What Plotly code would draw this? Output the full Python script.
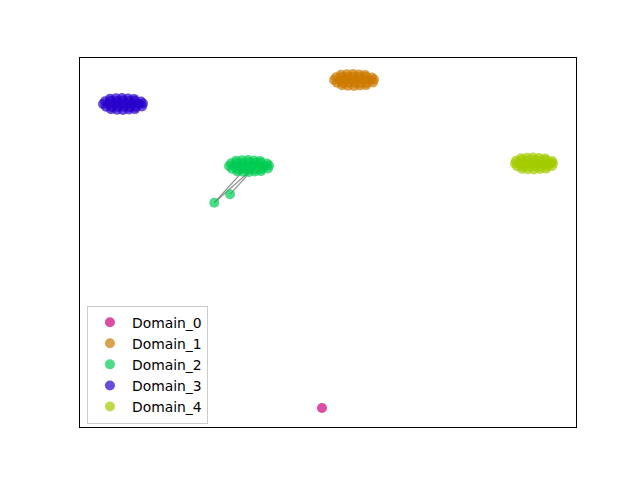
import plotly.graph_objects as go

# ---- data (embedding coordinates) ----
domains = ["Domain_0", "Domain_1", "Domain_2", "Domain_3", "Domain_4"]
colors = ["#cc007a", "#cc7a00", "#00cc52", "#2900cc", "#a3cc00"]

d0_x = [-0.6]
d0_y = [-16.55]

d1_x = [1.3, 1.9, 2.5, 3.1, 3.7,
        0.8, 1.4, 2.0, 2.6, 3.2, 3.8, 4.4,
        0.6, 1.2, 1.8, 2.4, 3.0, 3.6, 4.2, 4.6,
        0.9, 1.5, 2.1, 2.7, 3.3, 3.9, 4.5,
        1.4, 2.0, 2.6, 3.2, 3.8]
d1_y = [16.78, 16.82, 16.85, 16.80, 16.76,
        16.52, 16.58, 16.55, 16.60, 16.54, 16.57, 16.50,
        16.25, 16.23, 16.28, 16.25, 16.22, 16.27, 16.24, 16.30,
        15.97, 15.92, 15.95, 15.98, 15.93, 15.96, 16.00,
        15.72, 15.68, 15.65, 15.70, 15.74]

d2_x = [-9.2, -8.6, -8.0, -7.4, -6.8,
        -9.7, -9.1, -8.5, -7.9, -7.3, -6.7, -6.1,
        -9.9, -9.3, -8.7, -8.1, -7.5, -6.9, -6.3, -5.9,
        -9.6, -9.0, -8.4, -7.8, -7.2, -6.6, -6.0,
        -9.1, -8.5, -7.9, -7.3, -6.7,
        -11.37, -9.8]
d2_y = [8.18, 8.22, 8.25, 8.20, 8.16,
        7.92, 7.98, 7.95, 8.00, 7.94, 7.97, 7.90,
        7.65, 7.63, 7.68, 7.65, 7.62, 7.67, 7.64, 7.70,
        7.37, 7.32, 7.35, 7.38, 7.33, 7.36, 7.40,
        7.12, 7.08, 7.05, 7.10, 7.14,
        3.98, 4.82]

d3_x = [-21.8, -21.2, -20.6, -20.0, -19.4,
        -22.3, -21.7, -21.1, -20.5, -19.9, -19.3, -18.7,
        -22.5, -21.9, -21.3, -20.7, -20.1, -19.5, -18.9, -18.5,
        -22.2, -21.6, -21.0, -20.4, -19.8, -19.2, -18.6,
        -21.7, -21.1, -20.5, -19.9, -19.3]
d3_y = [14.38, 14.42, 14.45, 14.40, 14.36,
        14.12, 14.18, 14.15, 14.20, 14.14, 14.17, 14.10,
        13.85, 13.83, 13.88, 13.85, 13.82, 13.87, 13.84, 13.90,
        13.57, 13.52, 13.55, 13.58, 13.53, 13.56, 13.60,
        13.32, 13.28, 13.25, 13.30, 13.34]

d4_x = [19.3, 19.9, 20.5, 21.1, 21.7,
        18.8, 19.4, 20.0, 20.6, 21.2, 21.8, 22.4,
        18.7, 19.2, 19.8, 20.4, 21.0, 21.6, 22.2, 22.5,
        18.9, 19.5, 20.1, 20.7, 21.3, 21.9, 22.4,
        19.4, 20.0, 20.6, 21.2, 21.8]
d4_y = [8.43, 8.47, 8.50, 8.45, 8.41,
        8.17, 8.23, 8.20, 8.25, 8.19, 8.22, 8.15,
        7.90, 7.88, 7.93, 7.90, 7.87, 7.92, 7.89, 7.95,
        7.62, 7.57, 7.60, 7.63, 7.58, 7.61, 7.65,
        7.37, 7.33, 7.30, 7.35, 7.39]

# edges between outliers and the Domain_2 cluster
edge_x0 = [-11.37, -11.37, -9.8]
edge_y0 = [3.98, 3.98, 4.82]
edge_x1 = [-8.4, -7.7, -7.6]
edge_y1 = [7.25, 7.25, 7.25]

xs = [d0_x, d1_x, d2_x, d3_x, d4_x]
ys = [d0_y, d1_y, d2_y, d3_y, d4_y]

fig = go.Figure()

lx, ly = [], []
for a, b, c, d in zip(edge_x0, edge_y0, edge_x1, edge_y1):
    lx += [a, c, None]
    ly += [b, d, None]
fig.add_trace(go.Scatter(x=lx, y=ly, mode="lines", showlegend=False, hoverinfo="skip",
                         line=dict(color="rgba(100,100,100,0.7)", width=1.2)))

for name, col, x, y in zip(domains, colors, xs, ys):
    fig.add_trace(go.Scatter(x=x, y=y, mode="markers", name=name,
                             marker=dict(size=10, color=col, opacity=0.7, line=dict(width=0))))

fig.update_layout(
    width=632, height=472,
    paper_bgcolor="white", plot_bgcolor="white",
    margin=dict(l=72, r=64, t=50, b=53),
    font=dict(family="DejaVu Sans", size=14, color="black"),
    legend=dict(x=0.014, y=0.009, xanchor="left", yanchor="bottom",
                bgcolor="rgba(255,255,255,0.8)", bordercolor="#cccccc", borderwidth=1,
                font=dict(size=13.9), tracegroupgap=0, itemwidth=34),
    showlegend=True,
)
fig.update_xaxes(range=[-24.8, 24.8], showgrid=False, zeroline=False, showticklabels=False,
                 ticks="", showline=True, linecolor="black", linewidth=1, mirror=True)
fig.update_yaxes(range=[-18.45, 18.45], showgrid=False, zeroline=False, showticklabels=False,
                 ticks="", showline=True, linecolor="black", linewidth=1, mirror=True)

fig.write_html("out.html")
